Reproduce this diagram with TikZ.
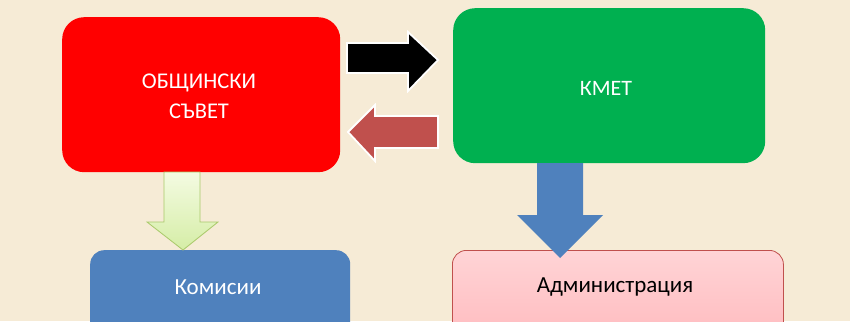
\documentclass[tikz,border=0pt]{standalone}
\usepackage{fontspec}
\setmainfont{Carlito}
\definecolor{bgc}{HTML}{F6EBD6}
\definecolor{kgreen}{HTML}{00B050}
\definecolor{kblue}{HTML}{4F81BD}
\definecolor{kbrown}{HTML}{C0504D}
\definecolor{lgreenA}{HTML}{F4FBE2}
\definecolor{lgreenB}{HTML}{D5EDA6}
\definecolor{lgreenE}{HTML}{A9C96A}
\definecolor{pinkA}{HTML}{FFD4D6}
\definecolor{pinkB}{HTML}{FFB8BC}
\definecolor{pinkE}{HTML}{C0504D}
\tikzset{
  bigbox/.style={rectangle, rounded corners=22pt, inner sep=0pt},
  smallbox/.style={rectangle, rounded corners=14pt, inner sep=0pt},
  lbl/.style={font=\fontsize{22.5}{30}\selectfont, text=white, align=center, inner sep=0pt},
  lowlbl/.style={font=\fontsize{23}{28}\selectfont, align=center, inner sep=0pt},
  blockarrow/.style={draw=white, line width=1.8pt, line join=miter},
}
\begin{document}
\begin{tikzpicture}[x=1pt,y=-1pt]
\path[use as bounding box, fill=bgc] (0,0) rectangle (850,321);
% main boxes
\node[bigbox, fill=red, minimum width=278pt, minimum height=155pt, anchor=north west] (sovet) at (62,17) {};
\node[bigbox, fill=kgreen, minimum width=312pt, minimum height=155pt, anchor=north west] (kmet) at (453,8) {};
\node[smallbox, fill=kblue, minimum width=260pt, minimum height=100pt, anchor=north west] (kom) at (90,250) {};
\node[smallbox, draw=pinkE, line width=0.8pt, top color=pinkA, bottom color=pinkB, minimum width=331pt, minimum height=100pt, anchor=north west] (adm) at (452,250) {};
% labels
\node[lbl] (tsovet) at (199,96) {ОБЩИНСКИ\\СЪВЕТ};
\node[lbl, font=\fontsize{22}{28}\selectfont] (tkmet) at (606,88) {КМЕТ};
\node[lowlbl, text=white] (tkom) at (218,287) {Комисии};
\node[lowlbl, text=black] (tadm) at (615,287) {Администрация};
% block arrows
\fill[black] (347,43) -- (408,43) -- (408,32) -- (438,60) -- (408,91) -- (408,73) -- (347,73) -- cycle;
\draw[blockarrow] (347,43) -- (408,43) -- (408,32) -- (438,60) -- (408,91) -- (408,73) -- (347,73) -- cycle;
\fill[kbrown] (438,116) -- (375,116) -- (375,105) -- (348,132) -- (375,161) -- (375,148) -- (438,148) -- cycle;
\draw[blockarrow] (438,116) -- (375,116) -- (375,105) -- (348,132) -- (375,161) -- (375,148) -- (438,148) -- cycle;
\shade[top color=lgreenA, bottom color=lgreenB] (164,172) -- (200,172) -- (200,222) -- (218,222) -- (183,250) -- (147,222) -- (164,222) -- cycle;
\draw[lgreenE, line width=0.8pt] (164,172) -- (200,172) -- (200,222) -- (218,222) -- (183,250) -- (147,222) -- (164,222) -- cycle;
\fill[kblue] (537,163) -- (583,163) -- (583,215) -- (603,215) -- (560,258) -- (517,215) -- (537,215) -- cycle;
\end{tikzpicture}
\end{document}
